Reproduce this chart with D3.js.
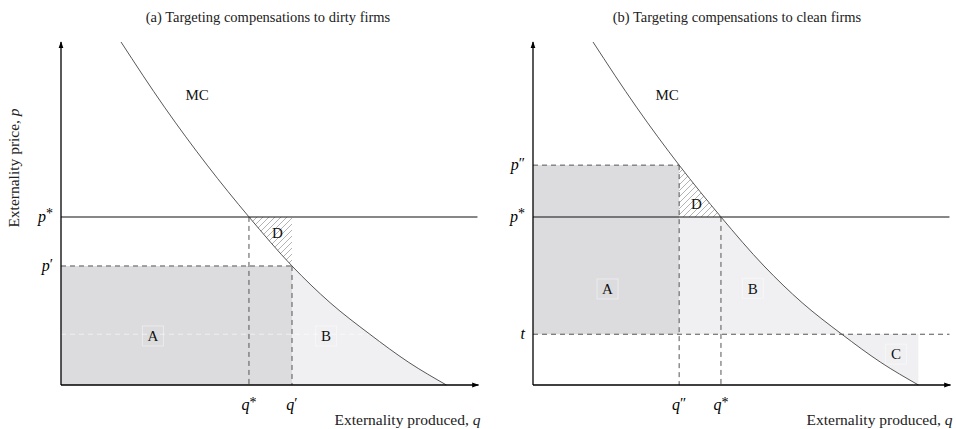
<!DOCTYPE html>
<html>
<head>
<meta charset="utf-8">
<script src="https://cdn.jsdelivr.net/npm/d3@7"></script>
<style>
  html, body { margin: 0; padding: 0; background: #fff; }
  svg { display: block; font-family: "Liberation Serif", "DejaVu Serif", serif; }
</style>
</head>
<body>
<svg id="chart" width="956" height="429"></svg>
<script>
// ---- data (q in units of externality, p in price units) ----
const mcQ = [14.5, 25, 35.3, 45.4, 55.8, 65, 74.6, 84, 93.1];
const mcP = [100, 81, 64.1, 49.0, 34.7, 24.0, 14.8, 6.6, 0];

const pStar = 49.0, pPrime = 34.7, pDouble = 64.1, tLevel = 14.8;
const qStar = 45.4, qPrime = 55.8, qDouble = 35.3, qEnd = 93.1;
const axisMax = 100.6;

const titles = ["(a) Targeting compensations to dirty firms", "(b) Targeting compensations to clean firms"];
const yAxisTitle = "Externality price, ";
const xAxisTitle = "Externality produced, ";

const panelALabels = [
  {t: "A", q: 22.2, p: 14.3, box: true},
  {t: "B", q: 64.0, p: 14.3, box: true},
  {t: "D", q: 52.3, p: 44.4, box: false},
  {t: "MC", q: 32.9, p: 84.5, box: false}
];
const panelBLabels = [
  {t: "A", q: 18.0, p: 28.0, box: true},
  {t: "B", q: 53.1, p: 28.2, box: true},
  {t: "C", q: 87.7, p: 9.0, box: true},
  {t: "D", q: 39.5, p: 52.7, box: false},
  {t: "MC", q: 32.4, p: 84.5, box: false}
];

const mc = mcQ.map((q, i) => ({q, p: mcP[i]}));

const COL_DARK = "#dcdcde";
const COL_LIGHT = "#f0f0f2";

const svg = d3.select("#chart");
const defs = svg.append("defs");

// hatch pattern
const pat = defs.append("pattern").attr("id", "hatch").attr("patternUnits", "userSpaceOnUse")
  .attr("width", 6).attr("height", 6);
pat.append("path").attr("d", "M-1,1 l2,-2 M0,6 l6,-6 M5,7 l2,-2")
  .attr("stroke", "#a0a0a0").attr("stroke-width", 0.8);

// arrow marker
defs.append("marker").attr("id", "arrow").attr("viewBox", "0 0 10 10")
  .attr("refX", 9).attr("refY", 5).attr("markerWidth", 7).attr("markerHeight", 7)
  .attr("markerUnits", "userSpaceOnUse").attr("orient", "auto")
  .append("path").attr("d", "M0,1.5 L10,5 L0,8.5 z").attr("fill", "#000");

const y = d3.scaleLinear().domain([0, 100]).range([385, 42]);

function panel(idx, x0, labels, kind) {
  const x = d3.scaleLinear().domain([0, 100]).range([x0, x0 + 414]);
  const g = svg.append("g");
  const curve = d3.curveMonotoneX;

  const below = d3.area().x(d => x(d.q)).y0(y(0)).y1(d => y(d.p)).curve(curve);
  const aboveArea = d3.area().x(d => x(d.q)).y0(y(110)).y1(d => y(d.p)).curve(curve);
  defs.append("clipPath").attr("id", "below" + idx)
    .append("path").attr("d", below(mc));
  const cpA = defs.append("clipPath").attr("id", "above" + idx);
  cpA.append("path").attr("d", aboveArea(mc));
  cpA.append("rect").attr("x", x(qEnd) - 0.5).attr("y", y(110)).attr("width", x(axisMax) - x(qEnd) + 1).attr("height", y(0) - y(110));

  const rect = (q1, q2, p1, p2) => g.append("rect")
    .attr("x", x(q1)).attr("y", y(p2)).attr("width", x(q2) - x(q1)).attr("height", y(p1) - y(p2));

  if (kind === "a") {
    rect(0, qPrime, 0, pPrime).attr("fill", COL_DARK);
    rect(qPrime, qEnd, 0, pPrime).attr("fill", COL_LIGHT).attr("clip-path", `url(#below${idx})`);
    rect(qStar, qPrime, pPrime, pStar).attr("fill", "url(#hatch)").attr("clip-path", `url(#above${idx})`);
    g.append("line").attr("x1", x(0)).attr("x2", x(74.6)).attr("y1", y(tLevel)).attr("y2", y(tLevel))
      .attr("stroke", "#fff").attr("stroke-opacity", 0.55).attr("stroke-width", 1).attr("stroke-dasharray", "5,4");
  } else {
    rect(0, qDouble, tLevel, pDouble).attr("fill", COL_DARK);
    rect(qDouble, qEnd, tLevel, pStar).attr("fill", COL_LIGHT).attr("clip-path", `url(#below${idx})`);
    rect(0, qEnd, 0, tLevel).attr("fill", COL_LIGHT).attr("clip-path", `url(#above${idx})`);
    rect(qDouble, qStar, pStar, pDouble).attr("fill", "url(#hatch)").attr("clip-path", `url(#below${idx})`);
  }

  labels.forEach(l => {
    if (l.box) {
      g.append("rect").attr("x", x(l.q) - 10.5).attr("y", y(l.p) - 10).attr("width", 21).attr("height", 20)
        .attr("fill", "none").attr("stroke", "#ffffff").attr("stroke-opacity", 0.45).attr("stroke-width", 1);
    }
    g.append("text").attr("x", x(l.q)).attr("y", y(l.p)).attr("dy", "0.35em")
      .attr("text-anchor", "middle").attr("font-size", 15).attr("fill", "#111").text(l.t);
  });

  const dash = (x1, y1, x2, y2) => g.append("line").attr("x1", x1).attr("y1", y1).attr("x2", x2).attr("y2", y2)
    .attr("stroke", "#555").attr("stroke-width", 1).attr("stroke-dasharray", "5,4");

  if (kind === "a") {
    dash(x(0), y(pPrime), x(qPrime), y(pPrime));
    dash(x(qStar), y(pStar), x(qStar), y(0));
    dash(x(qPrime), y(pPrime), x(qPrime), y(0));
  } else {
    dash(x(0), y(pDouble), x(qDouble), y(pDouble));
    dash(x(0), y(tLevel), x(axisMax), y(tLevel));
    dash(x(qDouble), y(pDouble), x(qDouble), y(0));
    dash(x(qStar), y(pStar), x(qStar), y(0));
  }
  g.append("line").attr("x1", x(0)).attr("x2", x(axisMax)).attr("y1", y(pStar)).attr("y2", y(pStar))
    .attr("stroke", "#111").attr("stroke-width", 1.1);

  g.append("path").attr("d", d3.line().x(d => x(d.q)).y(d => y(d.p)).curve(curve)(mc))
    .attr("fill", "none").attr("stroke", "#444").attr("stroke-width", 0.9);

  g.append("line").attr("x1", x(0)).attr("y1", y(0)).attr("x2", x(0)).attr("y2", y(100))
    .attr("stroke", "#000").attr("stroke-width", 1.3).attr("marker-end", "url(#arrow)");
  g.append("line").attr("x1", x(0)).attr("y1", y(0)).attr("x2", x(axisMax) + 1).attr("y2", y(0))
    .attr("stroke", "#000").attr("stroke-width", 1.3).attr("marker-end", "url(#arrow)");

  const pTicks = kind === "a" ? [[pStar, "*"], [pPrime, "\u2032"]] : [[pDouble, "\u2033"], [pStar, "*"], [tLevel, "t"]];
  pTicks.forEach(([v, s]) => {
    const tx = g.append("text").attr("x", x(0) - 8).attr("y", y(v)).attr("dy", "0.3em")
      .attr("text-anchor", "end").attr("font-size", 16).attr("font-style", "italic");
    if (s === "t") tx.text("t");
    else { tx.append("tspan").text("p"); tx.append("tspan").attr("font-style", "normal").attr("dy", s === "*" ? "-0.25em" : "-0.15em").attr("font-size", s === "*" ? 14 : 15).text(s); }
  });
  const qTicks = kind === "a" ? [[qStar, "*"], [qPrime, "\u2032"]] : [[qDouble, "\u2033"], [qStar, "*"]];
  qTicks.forEach(([v, s]) => {
    const tx = g.append("text").attr("x", x(v)).attr("y", 410).attr("text-anchor", "middle")
      .attr("font-size", 16).attr("font-style", "italic");
    tx.append("tspan").text("q");
    tx.append("tspan").attr("font-style", "normal").attr("dy", s === "*" ? "-0.25em" : "-0.15em").attr("font-size", s === "*" ? 14 : 15).text(s);
  });

  g.append("text").attr("x", x0 + (kind === "a" ? 207 : 204)).attr("y", 22).attr("text-anchor", "middle")
    .attr("font-size", 14.5).attr("fill", "#222").text(titles[idx]);

  const xt = g.append("text").attr("x", x(axisMax) + 3).attr("y", 425).attr("text-anchor", "end")
    .attr("font-size", 15.5).attr("fill", "#222");
  xt.append("tspan").text(xAxisTitle);
  xt.append("tspan").attr("font-style", "italic").text("q");
}

panel(0, 61, panelALabels, "a");
panel(1, 533, panelBLabels, "b");

const yt = svg.append("text").attr("transform", "translate(19,168) rotate(-90)").attr("text-anchor", "middle")
  .attr("font-size", 15.5).attr("fill", "#222");
yt.append("tspan").text(yAxisTitle);
yt.append("tspan").attr("font-style", "italic").text("p");
</script>
</body>
</html>
